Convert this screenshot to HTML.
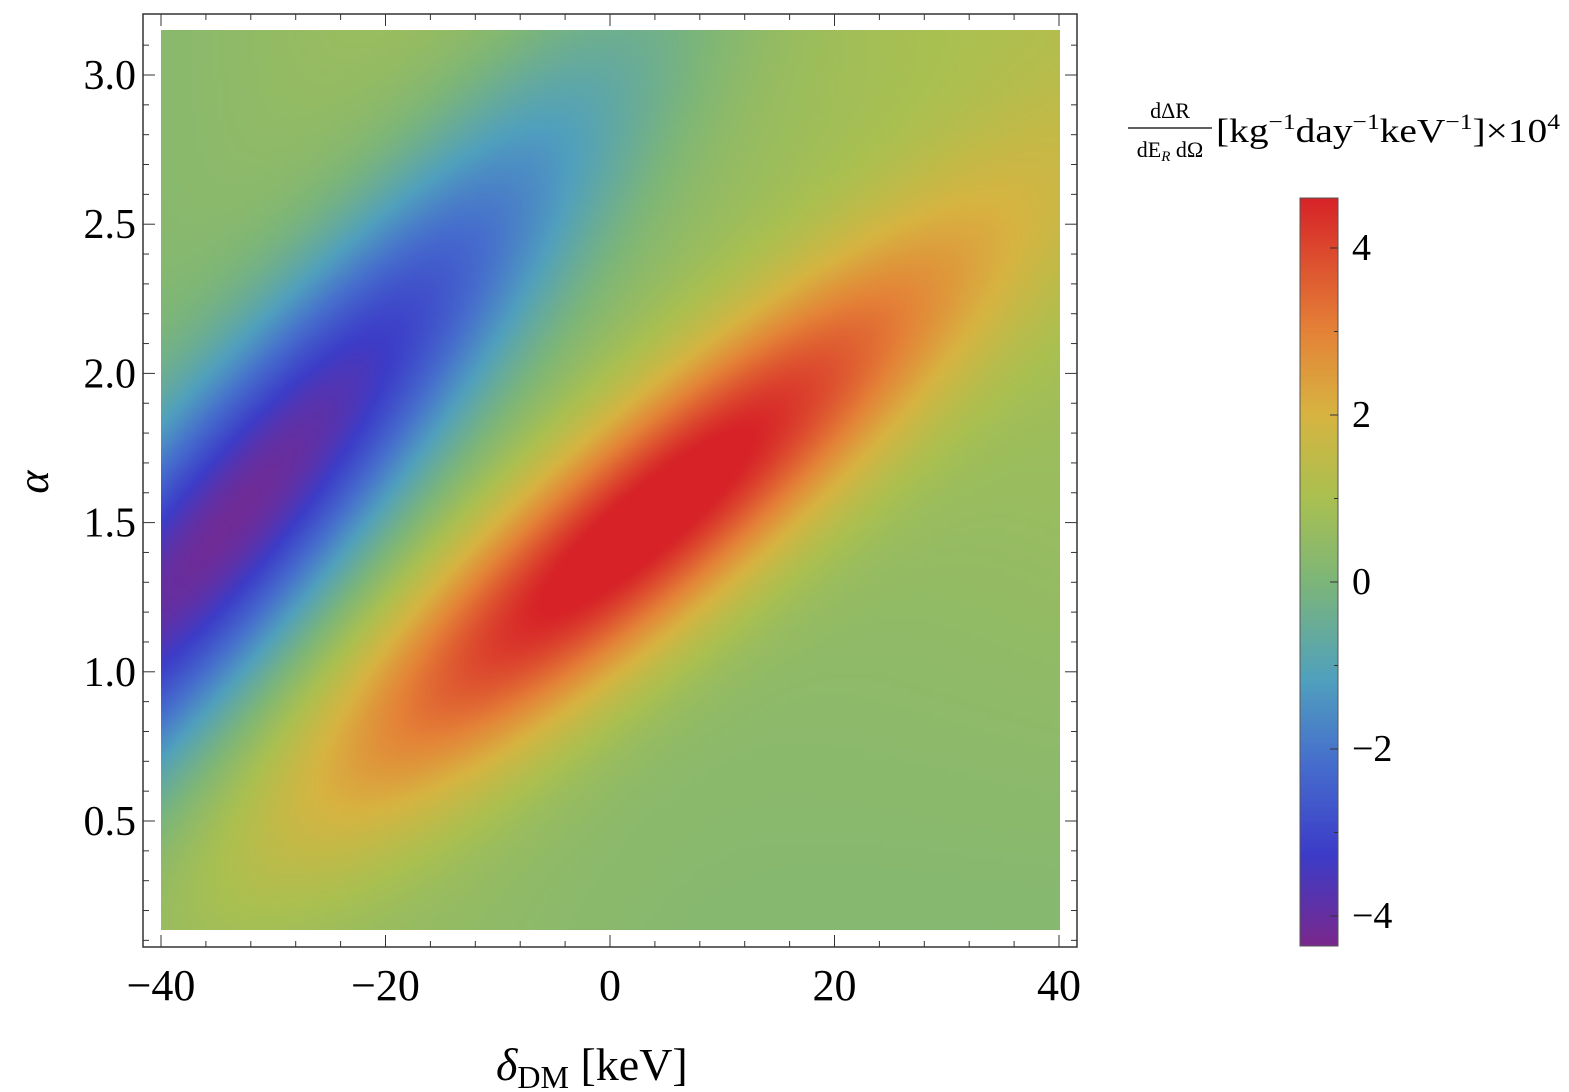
<!DOCTYPE html>
<html><head><meta charset="utf-8"><style>
body{margin:0;background:#fff;width:1569px;height:1092px;overflow:hidden;position:relative;font-family:"Liberation Serif",serif}
canvas{position:absolute;left:161px;top:30px;width:899px;height:900px}
svg{position:absolute;left:0;top:0}
</style></head><body>
<canvas id="c" width="180" height="180"></canvas>
<canvas id="cb" width="1" height="200" style="left:1300px;top:198px;width:38px;height:748px"></canvas>
<svg width="1569" height="1092" id="s" font-family="Liberation Serif, serif"></svg>
<script>
const stops=[[-4.4,[122,40,140]],[-3.3,[60,60,200]],[-2.2,[70,110,205]],[-1.2,[80,160,190]],[0,[125,182,120]],[1,[170,192,80]],[2,[215,180,65]],[3,[228,130,55]],[4.6,[215,35,40]]];
function col(v){if(v<=stops[0][0])return stops[0][1];for(let i=1;i<stops.length;i++){if(v<=stops[i][0]){const a=stops[i-1],b=stops[i],t=(v-a[0])/(b[0]-a[0]);return a[1].map((x,k)=>Math.round(x+(b[1][k]-x)*t));}}return stops[stops.length-1][1];}
function f(d,a){
 const r=1.4+0.029*d, b=2.85+0.04*d;
 const Ar=4.6*Math.exp(-Math.pow((d-3)/28,2)), Ab=-4.6*Math.exp(-Math.pow((d+32)/30,2));
 const base=0.15+0.9*((d+40)/80)*(a/3)+0.3*Math.exp(-Math.pow((d+20)/20,2));
 return base+Ar*Math.exp(-Math.pow((a-r)/0.42,2))+Ab*Math.exp(-Math.pow((a-b)/0.55,2));
}
const c=document.getElementById('c'),x=c.getContext('2d'),im=x.createImageData(180,180);
for(let j=0;j<180;j++)for(let i=0;i<180;i++){const d=-40+80*(i+0.5)/180,a=3.14-(3.14-0.13)*(j+0.5)/180;const k=col(f(d,a)),p=(j*180+i)*4;im.data[p]=k[0];im.data[p+1]=k[1];im.data[p+2]=k[2];im.data[p+3]=255;}
x.putImageData(im,0,0);
const cb=document.getElementById('cb'),y=cb.getContext('2d'),im2=y.createImageData(1,200);
for(let j=0;j<200;j++){const v=4.6-9*(j+0.5)/200,k=col(v);im2.data[j*4]=k[0];im2.data[j*4+1]=k[1];im2.data[j*4+2]=k[2];im2.data[j*4+3]=255;}
y.putImageData(im2,0,0);
let h='<rect x="143" y="14" width="934" height="933" fill="none" stroke="#333" stroke-width="1.5"/>';
const X=d=>161+(d+40)*11.225, Y=a=>75+(3-a)*298.4;
for(let d=-40;d<=40;d+=4){const M=d%20==0,L=M?12:6,px=X(d);h+=`<line x1="${px}" y1="947" x2="${px}" y2="${947-L}" stroke="#333"/><line x1="${px}" y1="14" x2="${px}" y2="${14+L}" stroke="#333"/>`;if(M)h+=`<text x="${px}" y="1000" font-size="44" text-anchor="middle">${d<0?'−'+(-d):d}</text>`;}
for(let i=1;i<=31;i++){const a=i/10,py=Y(a);if(py<14||py>947)continue;const M=i%5==0,L=M?12:6;h+=`<line x1="143" y1="${py}" x2="${143+L}" y2="${py}" stroke="#333"/><line x1="1077" y1="${py}" x2="${1077-L}" y2="${py}" stroke="#333"/>`;if(M)h+=`<text x="136" y="${py+14}" font-size="42" text-anchor="end">${a.toFixed(1)}</text>`;}
h+=`<text x="48" y="482" font-size="44" font-style="italic" text-anchor="middle" transform="rotate(-90 48 482)">α</text>`;
h+=`<text x="496" y="1080" font-size="46"><tspan font-style="italic">δ</tspan><tspan font-size="32" dy="8">DM</tspan><tspan dy="-8"> [keV]</tspan></text>`;
h+=`<text x="1170" y="118" font-size="22" text-anchor="middle">dΔR</text><line x1="1128" y1="128" x2="1212" y2="128" stroke="#000" stroke-width="1.2"/><text x="1170" y="157" font-size="22" text-anchor="middle">dE<tspan font-size="15" font-style="italic" dy="4">R</tspan><tspan dy="-4"> dΩ</tspan></text>`;
h+=`<text x="1216" y="142" font-size="34" textLength="344" lengthAdjust="spacingAndGlyphs">[kg<tspan font-size="22" dy="-13">−1</tspan><tspan dy="13">day</tspan><tspan font-size="22" dy="-13">−1</tspan><tspan dy="13">keV</tspan><tspan font-size="22" dy="-13">−1</tspan><tspan dy="13">]×10</tspan><tspan font-size="22" dy="-13">4</tspan></text>`;
h+=`<rect x="1300" y="198" width="38" height="748" fill="none" stroke="#555"/>`;
[[4,248],[2,415],[0,582],[-2,749],[-4,916]].forEach(([v,py])=>{h+=`<line x1="1330" y1="${py}" x2="1338" y2="${py}" stroke="#333"/><text x="1352" y="${py+12}" font-size="38">${v<0?'−'+(-v):v}</text>`;});
for(let v=-4;v<=4;v+=1)if(v%2){const py=582-v*83.5;h+=`<line x1="1334" y1="${py}" x2="1338" y2="${py}" stroke="#333"/>`;}
document.getElementById('s').innerHTML=h;
</script>
</body></html>
